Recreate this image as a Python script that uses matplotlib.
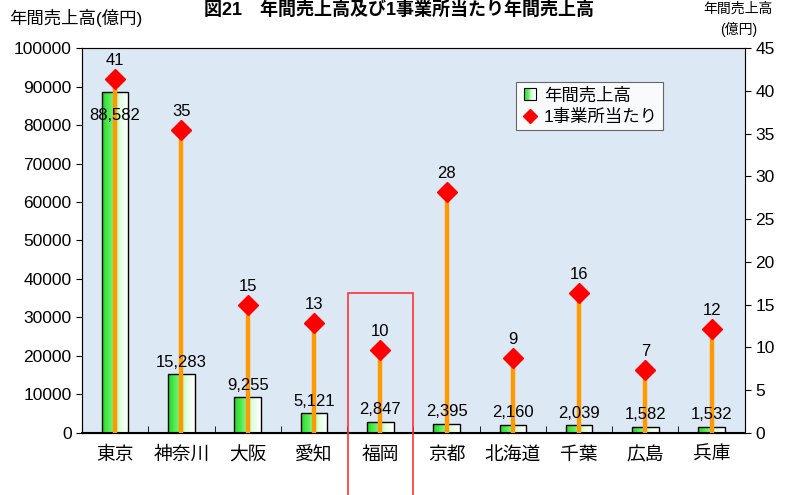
import numpy as np
import matplotlib.pyplot as plt
from matplotlib.patches import Rectangle
from matplotlib.lines import Line2D
from matplotlib.legend_handler import HandlerBase
from matplotlib.colors import LinearSegmentedColormap

plt.rcParams['font.family'] = ['Liberation Sans', 'Noto Sans CJK JP']

# data
prefs = ['東京', '神奈川', '大阪', '愛知', '福岡', '京都', '北海道', '千葉', '広島', '兵庫']
sales = [88582, 15283, 9255, 5121, 2847, 2395, 2160, 2039, 1582, 1532]
per_office = [41.4, 35.4, 15.0, 12.8, 9.7, 28.2, 8.8, 16.4, 7.4, 12.1]

green = LinearSegmentedColormap.from_list('g', ['#22dd22', '#66ee66', '#ddffdd', '#ffffff'])


def gradient_bar(ax, x, h, w, n=30):
    lefts = x - w / 2 + np.arange(n) * w / n
    cols = green(np.linspace(0, 1, n))
    ax.bar(lefts, [h] * n, width=w / n, align='edge', color=cols, linewidth=0, zorder=2)
    ax.bar(x, h, width=w, fill=False, edgecolor='black', linewidth=1, zorder=3)


class GradHandler(HandlerBase):
    def create_artists(self, legend, orig, xd, yd, width, height, fontsize, trans):
        s = height * 1.0
        x0 = xd + (width - s) / 2
        out = []
        n = 10
        for i in range(n):
            out.append(Rectangle((x0 + i * s / n, yd), s / n, s, facecolor=green(i / (n - 1)),
                                 edgecolor='none', transform=trans))
        out.append(Rectangle((x0, yd), s, s, facecolor='none', edgecolor='black', lw=0.8, transform=trans))
        return out


fig = plt.figure(figsize=(7.94, 4.95), dpi=100)
ax = fig.add_axes([0.1033, 0.1253, 0.8347, 0.7777])
ax.set_facecolor('#dde8f5')
x = np.arange(len(prefs))

for xi, v in zip(x, sales):
    gradient_bar(ax, xi, v, 0.4)

ax.set_xlim(-0.5, len(prefs) - 0.5)
ax.set_ylim(0, 100000)
ax.set_yticks(np.arange(0, 100001, 10000))
ax.set_xticks(x)
ax.set_xticklabels(prefs, fontsize=13.5)
ax.set_xticks(np.arange(0.5, len(prefs) - 0.5, 1), minor=True)
ax.tick_params(axis='x', which='major', length=0, pad=10)
ax.tick_params(axis='x', which='minor', direction='in', length=5)
ax.tick_params(axis='y', labelsize=12.5, direction='out', length=4)
for s in ['top', 'right']:
    ax.spines[s].set_color('#888888')
ax.spines['bottom'].set_linewidth(1.5)

ax2 = ax.twinx()
ax2.set_ylim(0, 45)
ax2.set_yticks(np.arange(0, 46, 5))
ax2.tick_params(axis='y', labelsize=12.5, direction='out', length=4)
ax2.vlines(x, 0, per_office, color='#ff9900', linewidth=3.2, zorder=4)
ax2.plot(x, per_office, linestyle='none', marker='D', color='red', markersize=10, zorder=5)
for xi, v in zip(x, per_office):
    ax2.text(xi, v + 1.3, f'{round(v)}', ha='center', va='bottom', fontsize=12)

# bar value labels drawn above the orange lines
for xi, v in zip(x, sales):
    if v > 80000:
        ax2.text(xi, v - 6000, f'{v:,}', ha='center', va='center', fontsize=12,
                 transform=ax.transData, zorder=6)
    else:
        ax2.text(xi, v + 1200, f'{v:,}', ha='center', va='bottom', fontsize=12,
                 transform=ax.transData, zorder=6)

handles = [Rectangle((0, 0), 1, 1), Line2D([], [], linestyle='none', marker='D', color='red', markersize=7)]
leg = ax2.legend(handles, ['年間売上高', '1事業所当たり'], handler_map={Rectangle: GradHandler()},
                 loc='upper left', bbox_to_anchor=(0.655, 0.912), fontsize=12.5, frameon=True,
                 fancybox=False, edgecolor='#444444', borderpad=0.3, handlelength=1.0,
                 handletextpad=0.3, labelspacing=0.3, borderaxespad=0)
leg.get_frame().set_linewidth(0.8)

fig.text(0.503, 0.997, '図21　年間売上高及び1事業所当たり年間売上高', ha='center', va='top',
         fontsize=13, fontweight='bold')
fig.text(0.012, 1 - 18 / 495, '年間売上高(億円)', ha='left', va='center', fontsize=12.5)
fig.text(0.93, 0.997, '年間売上高', ha='center', va='top', fontsize=10)
fig.text(0.93, 1 - 29 / 495, '(億円)', ha='center', va='center', fontsize=10)

# highlight box around 福岡
fig.add_artist(Rectangle((348 / 794, -0.01), 65 / 794, (495 - 293) / 495 + 0.01, fill=False,
                         edgecolor='#ff3333', linewidth=1.2, transform=fig.transFigure, zorder=10))

fig.savefig('out.png', dpi=100)
